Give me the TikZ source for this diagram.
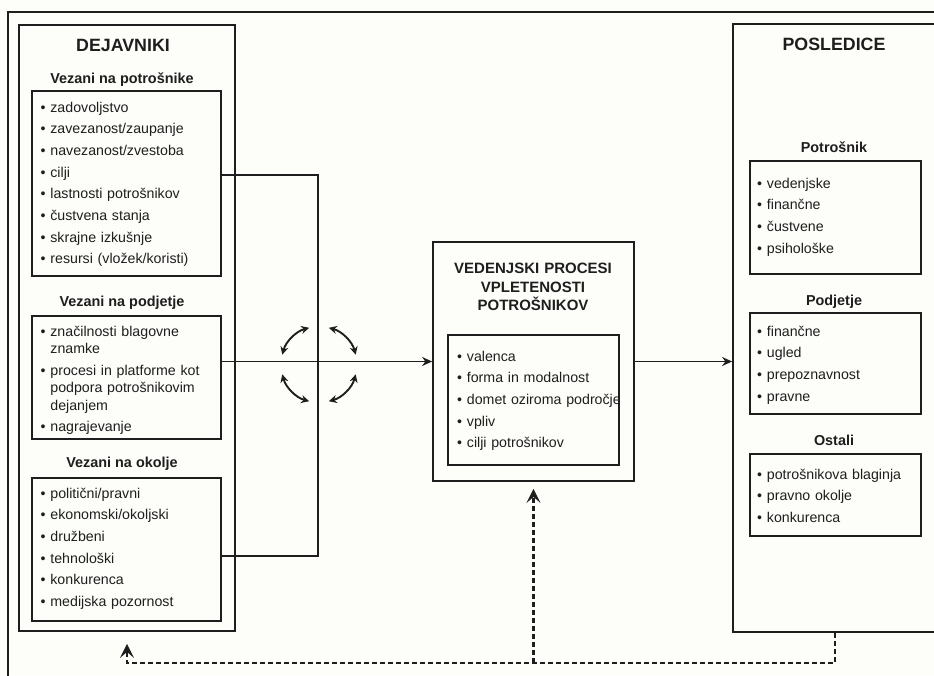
\documentclass[tikz,border=0pt]{standalone}
\usepackage{fontspec}
\setmainfont{Liberation Sans}
\usepackage{tikz}
\usetikzlibrary{arrows.meta,positioning,fit,calc}

\definecolor{paper}{RGB}{253,253,249}
\definecolor{ink}{RGB}{30,30,30}
\newcommand{\cont}{\hphantom{•~}}

\begin{document}
\begin{tikzpicture}[
    x=1pt, y=-1pt,
    box/.style={draw=ink, line width=1.8pt, inner sep=0pt},
    frame/.style={draw=ink, line width=1.2pt},
    line/.style={draw=ink, line width=1.8pt},
    head/.style={font=\fontsize{17.8}{20}\selectfont\bfseries, text=ink, anchor=base, inner sep=0pt},
    subhead/.style={font=\fontsize{14.4}{17}\selectfont\bfseries, text=ink, anchor=base, inner sep=0pt},
    ptitle/.style={font=\fontsize{15}{18.7}\selectfont\bfseries, text=ink, anchor=base, inner sep=0pt, text width=200pt, align=center},
    items/.style={font=\fontsize{14.2}{21.7}\selectfont, text=ink, anchor=base west, inner sep=0pt, text width=#1, align=left},
    arrow/.style={-{Stealth[length=10pt,width=9pt]}, line width=1.8pt, draw=ink},
    twoway/.style={{Stealth[length=8pt,width=8pt]}-{Stealth[length=8pt,width=8pt]}, line width=1.9pt, draw=ink},
    dasharrow/.style={-{Stealth[length=14pt,width=14pt,inset=6pt]}, line width=2.4pt, draw=ink, dash pattern=on 5pt off 3pt},
]
    \useasboundingbox (0,0) rectangle (934,675);
    \fill[paper] (0,0) rectangle (934,675);
    \draw[frame] (8,12) rectangle (960,700);

    % Dejavniki
    \node[box, fit={(19,25) (235,631)}] (dejavniki) {};
    \node[head] (dejtitle) at (123,51.3) {DEJAVNIKI};

    \node[subhead] (potrtitle) at (122,83) {Vezani na potrošnike};
    \node[box, fit={(32,91) (221,276)}] (potr) {};
    \node[items=185pt] (potrlist) at (40.5,112) {•~zadovoljstvo\\•~zavezanost/zaupanje\\•~navezanost/zvestoba\\•~cilji\\•~lastnosti potrošnikov\\•~čustvena stanja\\•~skrajne izkušnje\\•~resursi (vložek/koristi)};

    \node[subhead] (podjtitle) at (122,306) {Vezani na podjetje};
    \node[box, fit={(32,316) (221,439)}] (podj) {};
    \node[items=185pt] (podjlist) at (40.5,336) {•~značilnosti blagovne\\[-4.2pt]\cont znamke\\•~procesi in platforme kot\\[-4.2pt]\cont podpora potrošnikovim\\[-4.2pt]\cont dejanjem\\•~nagrajevanje};

    \node[subhead] (okoltitle) at (122,467) {Vezani na okolje};
    \node[box, fit={(32,478) (221,621)}] (okol) {};
    \node[items=185pt] (okollist) at (40.5,498) {•~politični/pravni\\•~ekonomski/okoljski\\•~družbeni\\•~tehnološki\\•~konkurenca\\•~medijska pozornost};

    % Vedenjski procesi
    \node[box, fit={(433,242) (634,481)}] (proc) {};
    \node[ptitle] (proctitle) at (533,273.3) {VEDENJSKI PROCESI\\VPLETENOSTI\\POTROŠNIKOV};
    \node[box, fit={(448,335) (619,465)}] (procin) {};
    \node[items=175pt] (proclist) at (457,361) {•~valenca\\•~forma in modalnost\\•~domet oziroma področje\\•~vpliv\\•~cilji potrošnikov};

    % Posledice
    \node[box, fit={(733,24) (937,632)}] (posledice) {};
    \node[head] (posltitle) at (834,50) {POSLEDICE};

    \node[subhead] (potrstitle) at (834,152) {Potrošnik};
    \node[box, fit={(750,161) (921,274)}] (potrs) {};
    \node[items=165pt] (potrslist) at (757,188) {•~vedenjske\\•~finančne\\•~čustvene\\•~psihološke};

    \node[subhead] (podjstitle) at (834,305) {Podjetje};
    \node[box, fit={(750,313) (921,414)}] (podjs) {};
    \node[items=165pt] (podjslist) at (757,336) {•~finančne\\•~ugled\\•~prepoznavnost\\•~pravne};

    \node[subhead] (ostatitle) at (834,445) {Ostali};
    \node[box, fit={(750,454) (921,536)}] (osta) {};
    \node[items=165pt] (ostalist) at (757,479) {•~potrošnikova blaginja\\•~pravno okolje\\•~konkurenca};

    % Connectors
    \coordinate (bustop) at (318,175);
    \coordinate (busbot) at (318,556);
    \draw[line] (potr.east |- bustop) -- (bustop) -- (busbot) -- (okol.east |- busbot);
    \draw[arrow] (podj.east |- proc.west) -- (proc.west);
    \draw[arrow] (proc.east) -- (proc.east -| posledice.west);

    % Interaction arcs
    \coordinate (junc) at ($(bustop |- proc.west)+(1,3)$);
    \foreach \a in {15,105,195,285}
        \draw[twoway] (junc) ++(\a:38) arc (\a:\a+60:38);

    % Feedback
    \coordinate (fb) at ($(posledice.south)+(0,30)$);
    \draw[dasharrow, shorten >=12pt] (posledice.south) -- (fb) -| (dejavniki.south);
    \draw[dasharrow, shorten >=7pt] (proc.south |- fb) -- (proc.south);
\end{tikzpicture}
\end{document}
